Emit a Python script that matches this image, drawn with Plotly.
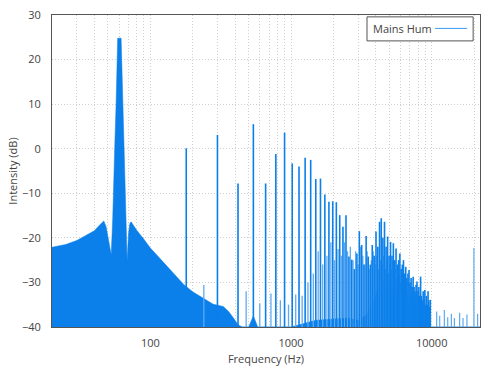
import plotly.graph_objects as go

# ---- data ----
# broadband background spectrum (Hz, dB)
bg_freq = [20, 25, 30, 35, 40, 44, 46.7, 48.5, 50.5, 52.7, 54.0, 54.9, 55.8, 57.1, 58.0, 58.6,
           62.0, 62.6, 64.0, 65.1, 66.1, 66.8, 68.4, 70.0, 71.5, 73.0, 80, 90, 100, 124, 150,
           172, 200, 240, 280, 330, 360, 390, 420, 450, 500, 540, 580, 1000, 1500, 2500, 3000,
           3440, 3830, 4270, 4890, 5470, 5930, 6260, 6600, 22050]
bg_db = [-22.1, -21.5, -20.6, -19.5, -18.4, -17.0, -16.2, -17.5, -20.5, -23.8, -16.0, -10.0, 0.0,
         10.0, 20.0, 24.8, 24.8, 20.0, 10.0, 0.0, -10.0, -16.0, -25.2, -19.0, -16.8, -16.4, -18.3,
         -20.3, -22.3, -25.5, -28.5, -30.4, -32.1, -33.6, -34.9, -35.4, -36.5, -38.0, -39.5, -40,
         -40, -37.5, -40, -40, -38.5, -38.0, -38.5, -37.3, -34.6, -30.0, -28.7, -31.0, -35.7,
         -38.4, -40, -40]

# odd harmonics of 60 Hz (Hz, dB)
odd_freq = [180, 300, 420, 540, 660, 780, 900, 1020, 1140, 1260, 1380, 1500, 1620, 1740, 1860,
            1980, 2100, 2220, 2340, 2460, 2580, 2700, 2820, 2940, 3060, 3180, 3300, 3420, 3540,
            3660, 3780, 3900, 4020, 4140, 4260, 4380, 4500, 4620, 4740, 4860, 4980, 5100, 5220,
            5340, 5460, 5580, 5700, 5820, 5940, 6060, 6180, 6300, 6420, 6540, 6660, 6780, 6900,
            7020, 7140, 7260, 7380, 7500, 7620, 7740, 7860, 7980, 8100, 8220, 8340, 8460, 8580,
            8700, 8820, 8940, 9060, 9180, 9300, 9420, 9540, 9660, 9780]
odd_db = [0.1, 3.1, -7.8, 5.5, -7.8, -1.2, 3.6, -3.3, -4.0, -2.0, -2.5, -6.8, -6.7, -10.3, -11.9,
          -11.8, -12.0, -14.9, -17.5, -14.9, -24.2, -24.9, -27.0, -23.5, -18.5, -21.6, -26.0,
          -19.6, -24.2, -26.0, -21.6, -24.0, -18.6, -22.0, -16.4, -15.6, -20.0, -16.4, -22.0,
          -19.7, -24.0, -20.9, -24.0, -21.2, -25.0, -22.4, -26.0, -25.0, -23.5, -27.0, -26.0,
          -25.0, -28.0, -26.5, -29.0, -28.0, -27.2, -30.0, -29.0, -31.0, -28.7, -31.0, -32.0,
          -30.5, -29.8, -32.0, -31.0, -33.0, -28.7, -33.0, -34.0, -32.0, -34.0, -31.7, -35.0,
          -33.0, -35.0, -32.0, -34.0, -35.5, -33.9]

# even harmonics / inter-harmonic noise lines (Hz, dB)
even_freq = [240, 480, 600, 720, 840, 960, 1080, 1200, 1320, 1440, 1560, 1680, 1800, 1920, 2040,
             2160, 2280, 2400, 2520, 2640, 2760, 2880, 3000, 3120, 3240, 3360, 3480, 3600, 3720,
             3840, 3960, 4080, 4200, 4320, 4440, 4560, 4680, 4800, 4920, 5040, 5160, 5280, 5400,
             5520, 5640, 5760, 5880, 6000, 6120, 6240, 6360, 6480, 6600, 6720, 6840, 6960, 7080,
             7200, 7320, 7440, 7560, 7680, 7800, 7920, 8040]
even_db = [-30.6, -32.0, -34.7, -32.5, -34.0, -35.0, -32.7, -33.0, -30.0, -28.0, -23.0, -26.0,
           -24.0, -21.0, -25.0, -22.5, -24.0, -21.0, -23.0, -22.0, -25.0, -23.0, -26.0, -22.0,
           -24.0, -26.0, -23.0, -27.0, -25.0, -23.0, -26.0, -24.0, -27.0, -25.0, -26.0, -24.0,
           -27.0, -25.0, -28.0, -26.0, -27.0, -25.0, -28.0, -27.0, -29.0, -26.0, -28.0, -30.0,
           -28.0, -31.0, -29.0, -31.0, -30.0, -32.0, -30.0, -33.0, -31.0, -34.0, -32.0, -34.0,
           -33.0, -35.0, -33.0, -35.0, -34.0]

# high-frequency spikes (Hz, dB)
hf_freq = [10850, 11400, 12300, 13000, 13800, 14500, 15800, 16700, 17800, 19950, 21200]
hf_db = [-36.5, -37.5, -36.2, -37.8, -37.0, -38.0, -36.8, -38.0, -37.2, -22.3, -37.0]

x_major = [100, 1000, 10000]
x_minor = [20, 30, 40, 50, 60, 70, 80, 90, 200, 300, 400, 500, 600, 700, 800, 900,
           2000, 3000, 4000, 5000, 6000, 7000, 8000, 9000, 20000]
y_ticks = [-40, -30, -20, -10, 0, 10, 20, 30]

FLOOR = -40
BLUE = "#0b7fea"
LIGHT = "#5eaaf2"
GRID = "#cfcfcf"
DOT = "1px,2px"


def spikes(freqs, dbs):
    xs, ys = [], []
    for f, d in zip(freqs, dbs):
        xs += [f, f, None]
        ys += [FLOOR, d, None]
    return xs, ys


fig = go.Figure()
fig.add_trace(go.Scatter(
    x=bg_freq + [bg_freq[-1], bg_freq[0]],
    y=bg_db + [FLOOR, FLOOR],
    fill="toself", fillcolor=BLUE, mode="lines",
    line=dict(color=BLUE, width=0.5), hoverinfo="skip", showlegend=False))

ex, ey = spikes(even_freq, even_db)
fig.add_trace(go.Scatter(x=ex, y=ey, mode="lines", line=dict(color=LIGHT, width=1.3),
                         showlegend=False))
ox, oy = spikes(odd_freq, odd_db)
fig.add_trace(go.Scatter(x=ox, y=oy, mode="lines", line=dict(color=BLUE, width=1.6),
                         showlegend=False))
hx, hy = spikes(hf_freq, hf_db)
fig.add_trace(go.Scatter(x=hx, y=hy, mode="lines", line=dict(color=LIGHT, width=1.2),
                         showlegend=False))

font = dict(family="Open Sans, DejaVu Sans, sans-serif", size=11, color="#444")

fig.update_layout(
    width=500, height=375,
    margin=dict(l=52, r=20, t=15, b=48, autoexpand=False),
    plot_bgcolor="white", paper_bgcolor="white",
    font=font, showlegend=False,
    xaxis=dict(type="log", range=[1.30103, 4.34341], tickvals=x_major,
               ticktext=[str(v) for v in x_major], showline=True, mirror=True,
               linecolor="#555", linewidth=1, ticks="", zeroline=False,
               ticklabelstandoff=6, automargin=False,
               gridcolor=GRID, griddash=DOT, gridwidth=1,
               title=dict(text="Frequency (Hz)", standoff=6, font=font),
               minor=dict(tickvals=x_minor, showgrid=True, gridcolor=GRID,
                          griddash=DOT, gridwidth=1, ticks="")),
    yaxis=dict(range=[-40, 30], tickvals=y_ticks, showline=True, mirror=True,
               linecolor="#555", linewidth=1, ticks="", zeroline=False,
               ticklabelstandoff=8, automargin=False,
               gridcolor=GRID, griddash=DOT, gridwidth=1,
               title=dict(text="Intensity (dB)", standoff=2, font=font)),
)

# legend box (text left, line sample right)
fig.add_shape(type="rect", xref="paper", yref="paper", x0=0.736, x1=0.984, y0=0.917, y1=0.994,
              line=dict(color="#555", width=1), fillcolor="white", layer="above")
fig.add_shape(type="line", xref="paper", yref="paper", x0=0.895, x1=0.970, y0=0.957, y1=0.957,
              line=dict(color="#3a9bf5", width=1), layer="above")
fig.add_annotation(text="Mains Hum", xref="paper", yref="paper", x=0.745, y=0.956,
                   xanchor="left", yanchor="middle", showarrow=False, font=font)

fig.write_html("out.html")
